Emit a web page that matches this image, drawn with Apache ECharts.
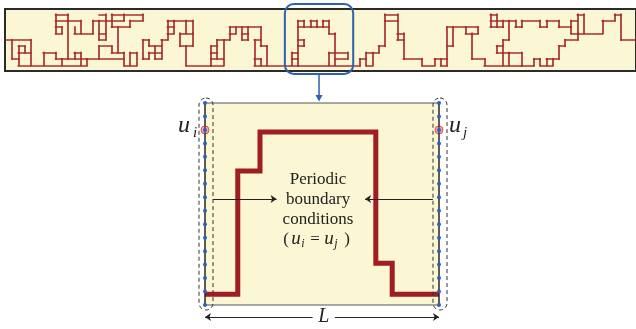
<!DOCTYPE html>
<html>
<head>
<meta charset="utf-8">
<script src="https://cdn.jsdelivr.net/npm/echarts@6/dist/echarts.min.js"></script>
<style>
  html, body { margin: 0; padding: 0; background: #ffffff; }
  #chart { width: 636px; height: 329px; }
</style>
</head>
<body>
<div id="chart"></div>
<script>
// Lattice polymer in the long strip: unit bonds [col1, row1, col2, row2]
const stripBondsA = [
  [0,4,4,4],[1,4,1,7],[1,7,2,7],[2,5,3,5],[2,6,4,6],[2,5,2,8],[3,5,3,6],[4,4,4,8],
  [2,8,13,8],[6,6,6,8],[6,6,8,6],[8,6,8,7],[8,7,13,7],[9,7,9,8],[11,6,11,7],[11,6,12,6],[12,6,12,8],[13,7,13,8],
  [8,0,8,3],[8,0,10,0],[10,0,10,1],[8,1,12,1],[8,2,9,2],[9,2,9,3],[8,3,9,3],[10,1,10,7],
  [11,2,11,3],[11,3,14,3],[12,1,12,3],
  [14,1,14,3],[14,1,19,1],[15,1,15,4],[16,0,16,4],[15,0,16,0],[15,3,16,3],[15,4,16,4],
  [17,0,22,0],[17,0,17,2],[19,0,19,1],[22,0,22,1],[20,1,22,1],[17,2,20,2],[18,2,18,6],[20,1,20,2],
  [13,7,19,7],[15,5,15,7],[15,5,17,5],[17,5,17,6],[17,6,19,6],[19,6,19,8],[19,8,21,8],[20,6,20,8],[21,6,21,8],[20,6,21,6],
  [22,4,22,7],[22,4,23,4],[23,4,23,5],[23,5,25,5],[22,7,23,7],[23,6,23,7],[23,6,25,6]
];
const stripBondsB = [
  [24,5,24,7],[24,7,25,7],[25,4,25,7],[25,4,26,4],
  [26,1,26,4],[26,1,30,1],[27,1,27,3],[26,2,27,2],[26,3,27,3],
  [29,1,29,3],[30,1,30,3],[28,3,30,3],[28,3,28,5],[28,5,30,5],[30,3,30,5],[29,5,29,8],[29,8,33,8],
  [33,5,33,8],[33,5,34,5],[34,4,34,7],[34,4,36,4],[35,4,35,8],[33,6,34,6],[33,7,35,7],[33,8,35,8],
  [36,2,36,4],[36,2,41,2],[37,2,37,3],[36,3,37,3],[38,2,38,4],[38,4,39,4],[39,2,39,4],[38,3,39,3],
  [41,2,41,5],[41,5,42,5],[42,5,42,8],[40,4,40,8],[40,4,41,4],[40,7,41,7],[41,7,41,8],[40,8,47,8]
];
const stripBondsC = [
  [46,6,46,8],[46,6,47,6],[46,7,47,7],[47,1,47,8],[47,1,48,1],[48,1,48,2],[47,2,52,2],[47,4,48,4],[48,4,48,5],[47,5,48,5],
  [49,1,50,1],[49,1,49,2],[50,1,50,2],[51,1,52,1],[51,1,51,2],[52,1,52,3],[52,3,53,3],[53,3,53,8],
  [52,6,52,8],[52,6,55,6],[55,6,55,7],[53,7,55,7],[47,8,57,8],
  [57,7,57,8],[57,7,58,7],[58,6,58,8],[58,6,60,6],[59,6,59,8],[58,8,59,8],[60,5,60,6],[60,5,61,5],[61,0,61,5],
  [61,0,63,0],[61,1,63,1],[63,0,63,4],[63,3,64,3],[63,4,64,4],[64,3,64,7],[64,7,67,7],[67,7,67,8],[67,8,69,8],
  [69,7,69,8],[69,7,71,7],[70,7,70,8],[70,8,71,8],[71,2,71,8],[71,2,74,2],[72,2,72,5],[71,5,72,5]
];
const stripBondsD = [
  [74,2,76,2],[74,2,74,3],[74,3,76,3],[76,2,76,3],[75,3,75,7],[75,7,77,7],[77,7,77,8],[77,8,83,8],
  [79,5,80,5],[79,5,79,6],[79,6,81,6],[80,4,80,8],[80,4,81,4],[81,1,81,4],[81,6,83,6],[81,6,81,8],[83,6,83,8],
  [83,8,85,8],[85,7,85,8],[85,7,86,7],[86,7,86,8],[86,8,88,8],[87,7,87,8],[87,7,89,7],[88,7,88,8],
  [89,5,89,7],[89,5,90,5],[90,4,90,5],[90,4,92,4],[92,3,92,4],
  [78,0,79,0],[78,0,78,2],[79,0,79,2],[78,2,80,2],[80,1,80,2],[78,1,82,1],[82,1,82,2],[82,2,83,2],[83,1,83,2],
  [83,1,86,1],[86,1,86,2],[86,2,87,2],[87,1,87,2],[87,1,89,1],[89,1,89,2],[89,2,91,2],[91,1,91,3],[91,1,92,1],
  [92,0,92,3],[92,0,93,0],[93,0,93,3],[91,3,96,3],
  [96,1,96,3],[96,1,98,1],[98,0,98,1],[98,0,99,0],[99,0,99,4],[99,4,102,4]
];

// Magnified cell: box width L = 10, boundary sites 0..15
const cellWidth = 10;
const siteCount = 16;
const markedSite = 13;
const cellPolymerX = [0, 1.4, 1.4, 2.35, 2.35, 7.3, 7.3, 8.0, 8.0, 10];
const cellPolymerY = [0.8, 0.8, 9.95, 9.95, 12.85, 12.85, 3.1, 3.1, 0.8, 0.8];

// Highlighted window on the strip (cols, rows)
const windowCols = [44.9, 55.9];
const windowRows = [-1.6, 9.35];

// Captions
const captionLines = ['Periodic', 'boundary', 'conditions'];
const captionX = 4.83;
const captionY = [9.33, 7.8, 6.31, 4.83];
const arrowY = 7.87;
const leftArrowX = [0.34, 3.06];
const rightArrowX = [9.74, 6.84];
const lengthY = -0.89;
const lengthGap = [4.6, 5.55];
const lengthLabel = 'L';

const YELLOW = '#fbf6d3';
const RED = '#a3252a';
const BLUE = '#2c62b0';
const SERIF = '"Liberation Serif", "DejaVu Serif", serif';

const allBonds = [].concat(stripBondsA, stripBondsB, stripBondsC, stripBondsD);
const sites = Array.from({ length: siteCount }, (_, i) => i);

const chart = echarts.init(document.getElementById('chart'), null, { renderer: 'canvas' });

const option = {
  animation: false,
  grid: [
    { left: 5, top: 9, width: 640, height: 62, show: true, backgroundColor: YELLOW,
      borderColor: '#2b2b2b', borderWidth: 2 },
    { left: 205, top: 103, width: 234, height: 202, show: true, backgroundColor: YELLOW,
      borderColor: '#555', borderWidth: 1 }
  ],
  xAxis: [
    { type: 'value', gridIndex: 0, min: -0.16, max: 101.43, show: false },
    { type: 'value', gridIndex: 1, min: 0, max: cellWidth, show: false }
  ],
  yAxis: [
    { type: 'value', gridIndex: 0, min: -0.83, max: 8.89, inverse: true, show: false },
    { type: 'value', gridIndex: 1, min: 0, max: siteCount - 1, show: false }
  ],
  series: [
    {
      type: 'lines', coordinateSystem: 'cartesian2d', xAxisIndex: 0, yAxisIndex: 0,
      silent: true, z: 3,
      lineStyle: { color: RED, width: 1.7, opacity: 0.95, cap: 'square' },
      data: allBonds.map(b => ({ coords: [[b[0], b[1]], [b[2], b[3]]] }))
    },
    {
      type: 'line', xAxisIndex: 1, yAxisIndex: 1, silent: true, z: 3, clip: false,
      symbol: 'none',
      lineStyle: { color: '#a01d22', width: 5, join: 'miter' },
      data: cellPolymerX.map((x, i) => [x, cellPolymerY[i]])
    },
    {
      type: 'scatter', xAxisIndex: 1, yAxisIndex: 1, silent: true, z: 4, clip: false,
      symbol: 'circle', symbolSize: 8,
      itemStyle: { color: '#f3a9a6', borderColor: '#d9534f', borderWidth: 1, opacity: 1 },
      data: [[0, markedSite], [cellWidth, markedSite]]
    },
    ...[0, cellWidth].map(x => ({
      type: 'line', xAxisIndex: 1, yAxisIndex: 1, silent: true, z: 5, clip: false,
      symbol: 'circle', symbolSize: 4, showSymbol: true,
      itemStyle: { color: '#2b5fc4' },
      lineStyle: { color: '#111', width: 1 },
      data: sites.map(s => [x, s])
    })),
    {
      type: 'lines', coordinateSystem: 'cartesian2d', xAxisIndex: 1, yAxisIndex: 1,
      silent: true, z: 6, clip: false,
      symbol: ['none', 'arrow'], symbolSize: 6,
      lineStyle: { color: '#222', width: 1, opacity: 1 },
      data: [
        { coords: [[leftArrowX[0], arrowY], [leftArrowX[1], arrowY]] },
        { coords: [[rightArrowX[0], arrowY], [rightArrowX[1], arrowY]] },
        { coords: [[lengthGap[0], lengthY], [0, lengthY]] },
        { coords: [[lengthGap[1], lengthY], [cellWidth, lengthY]] }
      ]
    }
  ]
};

chart.setOption(option);

const px = (g, p) => chart.convertToPixel({ gridIndex: g }, p);
const graphics = [];

// highlighted window and pointer
const w0 = px(0, [windowCols[0], windowRows[0]]);
const w1 = px(0, [windowCols[1], windowRows[1]]);
graphics.push({ type: 'rect', z: 20,
  shape: { x: w0[0], y: w0[1], width: w1[0] - w0[0], height: w1[1] - w0[1], r: 9 },
  style: { fill: 'none', stroke: BLUE, lineWidth: 2 } });
const cellTop = px(1, [0, siteCount - 1])[1];
const cx = (w0[0] + w1[0]) / 2;
graphics.push({ type: 'line', z: 20,
  shape: { x1: cx, y1: w1[1], x2: cx, y2: cellTop - 7 },
  style: { stroke: BLUE, lineWidth: 1.5 } });
graphics.push({ type: 'polygon', z: 20,
  shape: { points: [[cx - 3.5, cellTop - 8], [cx + 3.5, cellTop - 8], [cx, cellTop - 1.5]] },
  style: { fill: BLUE } });

// dashed outlines around the boundary columns
[0, cellWidth].forEach(x => {
  const t = px(1, [x, siteCount - 1]);
  const b = px(1, [x, 0]);
  graphics.push({ type: 'rect', z: 20,
    shape: { x: t[0] - 6, y: t[1] - 5, width: 14, height: b[1] - t[1] + 10, r: 7 },
    style: { fill: 'none', stroke: '#333', lineWidth: 1, lineDash: [4, 3] } });
});

function txt(x, y, s, size, italic, align) {
  graphics.push({ type: 'text', z: 25, x: x, y: y,
    style: { text: s, fill: '#222', align: align || 'center', verticalAlign: 'middle',
      font: (italic ? 'italic ' : '') + size + 'px ' + SERIF } });
}

// site labels
const li = px(1, [0, markedSite]);
txt(li[0] - 21, li[1] - 4, 'u', 24, true);
txt(li[0] - 10, li[1] + 3, 'i', 15, true);
const lj = px(1, [cellWidth, markedSite]);
txt(lj[0] + 16, lj[1] - 4, 'u', 24, true);
txt(lj[0] + 26, lj[1] + 3, 'j', 15, true);

// caption
captionLines.forEach((s, i) => {
  const p = px(1, [captionX, captionY[i]]);
  txt(p[0], p[1], s, 17, false);
});
const f = px(1, [captionX, captionY[3]]);
txt(f[0] - 32, f[1], '(', 17, false);
txt(f[0] - 22, f[1] - 1, 'u', 19, true);
txt(f[0] - 15, f[1] + 4, 'i', 12, true);
txt(f[0] - 3, f[1], '=', 17, false);
txt(f[0] + 11, f[1] - 1, 'u', 19, true);
txt(f[0] + 18, f[1] + 4, 'j', 12, true);
txt(f[0] + 29, f[1], ')', 17, false);

// length label
const lp = px(1, [(lengthGap[0] + lengthGap[1]) / 2, lengthY]);
txt(lp[0], lp[1], lengthLabel, 20, true);

chart.setOption({ graphic: graphics });
</script>
</body>
</html>
